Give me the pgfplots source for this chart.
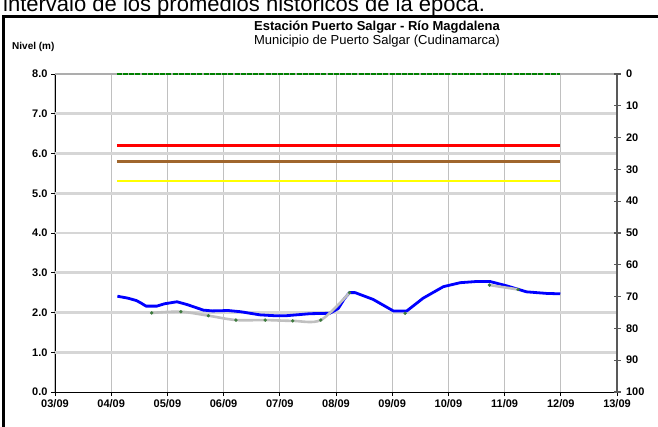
\documentclass[border=0pt]{standalone}
\usepackage{pgfplots}
\pgfplotsset{compat=1.18}
\usepackage{fontspec}
\setmainfont{Liberation Sans}
\definecolor{gridv}{HTML}{C0C0C0}
\definecolor{gridh}{HTML}{D6D6D6}
\definecolor{histgray}{HTML}{C0C0C0}
\definecolor{histmark}{HTML}{3C7A3C}
\definecolor{lvlred}{RGB}{255,0,0}
\definecolor{lvlbrown}{RGB}{160,102,45}
\definecolor{lvlyellow}{RGB}{255,255,0}
\definecolor{lvlgreen}{RGB}{0,128,0}
\definecolor{raxis}{HTML}{595959}
\begin{document}
\begin{tikzpicture}[x=1bp,y=1bp]
\useasboundingbox (-55,-34) rectangle (603,392);
\node[anchor=base west,font=\fontsize{22bp}{26bp}\selectfont,inner sep=0pt] at (-52,381) {intervalo de los promedios históricos de la época.};
\draw[line width=3bp] (-51,-40) -- (-51,375) -- (610,375);
\node[font=\bfseries\fontsize{13bp}{15bp}\selectfont] at (322,365) {Estación Puerto Salgar - Río Magdalena};
\node[font=\fontsize{13bp}{15bp}\selectfont] at (322,351) {Municipio de Puerto Salgar (Cudinamarca)};
\node[anchor=west,font=\bfseries\fontsize{10bp}{12bp}\selectfont,inner sep=0pt] at (-43,345) {Nivel (m)};
\begin{axis}[
  scale only axis, width=562bp, height=318bp,
  xmin=3, xmax=13, ymin=0, ymax=8,
  axis x line*=bottom, axis y line*=left,
  axis line style={black, line width=0.9bp},
  xtick={3,4,...,13},
  xticklabels={03/09,04/09,05/09,06/09,07/09,08/09,09/09,10/09,11/09,12/09,13/09},
  ytick={0,1,...,8},
  yticklabel style={/pgf/number format/.cd,fixed,fixed zerofill,precision=1},
  /pgf/number format/assume math mode=true,
  tick label style={font=\bfseries\fontsize{11bp}{13bp}\selectfont},
  tick align=outside, major tick length=4bp,
  tick style={black, line width=0.8bp},
  xmajorgrids,
  major x grid style={draw=gridv, line width=1bp},
  clip=false,
]
\addplot[draw=gridh, line width=2.8bp, forget plot] coordinates {(3,1) (13,1)};
\addplot[draw=gridh, line width=2.8bp, forget plot] coordinates {(3,2) (13,2)};
\addplot[draw=gridh, line width=2.8bp, forget plot] coordinates {(3,3) (13,3)};
\addplot[draw=gridh, line width=2.8bp, forget plot] coordinates {(3,4) (13,4)};
\addplot[draw=gridh, line width=2.8bp, forget plot] coordinates {(3,5) (13,5)};
\addplot[draw=gridh, line width=2.8bp, forget plot] coordinates {(3,6) (13,6)};
\addplot[draw=gridh, line width=2.8bp, forget plot] coordinates {(3,7) (13,7)};
\addplot[draw=gridv!90!black, line width=1.6bp, forget plot] coordinates {(3,8) (13,8)};
\addplot[draw=lvlgreen, line width=2.2bp, dash pattern=on 5bp off 1.2bp] coordinates {(4.10,8.0) (11.99,8.0)};
\addplot[draw=lvlred, line width=2.2bp] coordinates {(4.10,6.2) (11.98,6.2)};
\addplot[draw=lvlbrown, line width=2.2bp] coordinates {(4.10,5.8) (11.98,5.8)};
\addplot[draw=lvlyellow, line width=2.2bp] coordinates {(4.10,5.3) (11.98,5.3)};
\addplot[draw=blue, line width=2.8bp, line join=round] coordinates {
(4.11,2.41) (4.30,2.36) (4.45,2.30) (4.54,2.23) (4.62,2.16) (4.81,2.16)
(4.95,2.22) (5.17,2.27) (5.35,2.20) (5.64,2.06) (5.80,2.04) (6.08,2.05)
(6.30,2.02) (6.65,1.94) (6.90,1.92) (7.12,1.92) (7.54,1.97) (7.89,1.98)
(8.04,2.10) (8.15,2.35) (8.24,2.50) (8.34,2.50) (8.66,2.33) (9.02,2.04)
(9.26,2.04) (9.55,2.36) (9.91,2.65) (10.21,2.75) (10.50,2.78) (10.74,2.78)
(11.04,2.67) (11.39,2.52) (11.75,2.48) (11.99,2.47)};
\addplot[draw=histgray, line width=2.6bp, smooth, tension=0.5] coordinates {
(4.72,1.99) (5.24,2.02) (5.73,1.92) (6.22,1.81) (6.74,1.81) (7.23,1.79) (7.73,1.81) (8.24,2.50)};
\addplot[draw=histgray, line width=2.6bp] coordinates {(10.73,2.69) (11.24,2.58)};
\addplot[only marks, mark=*, mark size=1.5bp, color=histmark] coordinates {
(4.72,1.99) (5.24,2.02) (5.73,1.92) (6.22,1.81) (6.74,1.81) (7.23,1.79) (7.73,1.81) (8.24,2.50) (9.23,1.98) (10.73,2.69) (11.24,2.58)};
\end{axis}
\begin{axis}[
  scale only axis, width=562bp, height=318bp,
  xmin=3, xmax=13, ymin=0, ymax=100, y dir=reverse,
  axis x line=none, axis y line*=right,
  axis line style={raxis, line width=1.6bp},
  ytick={0,10,...,100},
  tick label style={font=\bfseries\fontsize{11bp}{13bp}\selectfont},
  /pgf/number format/assume math mode=true,
  yticklabel style={anchor=west, xshift=2bp},
  tick align=center, major tick length=7bp,
  tick style={raxis, line width=1.2bp},
]
\addplot[draw=none] coordinates {(3,0) (13,100)};
\end{axis}
\end{tikzpicture}
\end{document}
